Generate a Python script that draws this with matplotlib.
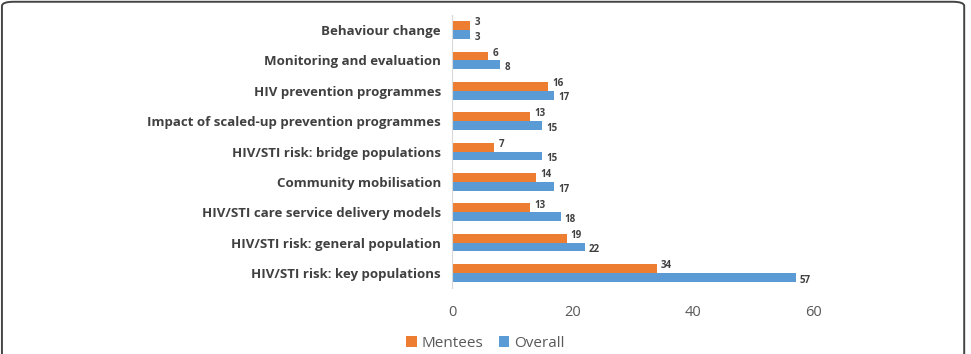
import matplotlib.pyplot as plt
import numpy as np
from matplotlib.patches import FancyBboxPatch

categories = ["Behaviour change", "Monitoring and evaluation", "HIV prevention programmes",
              "Impact of scaled-up prevention programmes", "HIV/STI risk: bridge populations",
              "Community mobilisation", "HIV/STI care service delivery models",
              "HIV/STI risk: general population", "HIV/STI risk: key populations"]
mentees = [3, 6, 16, 13, 7, 14, 13, 19, 34]
overall = [3, 8, 17, 15, 15, 17, 18, 22, 57]

orange = "#ED7D31"
blue = "#5B9BD5"
text_col = "#404040"

plt.rcParams['font.family'] = ['Open Sans', 'DejaVu Sans']

fig = plt.figure(figsize=(9.71, 3.54), dpi=100)
ax = fig.add_axes([0.4655, 0.186, 0.3725, 0.772])

y = np.arange(len(categories))
h = 0.29
ax.barh(y - h / 2, mentees, height=h, color=orange, label="Mentees")
ax.barh(y + h / 2, overall, height=h, color=blue, label="Overall")

for yi, m, o in zip(y, mentees, overall):
    ax.annotate(str(m), (m, yi - h / 2), xytext=(3, 2), textcoords="offset points",
                va="center", ha="left", fontsize=7, fontweight="bold", color=text_col)
    ax.annotate(str(o), (o, yi + h / 2), xytext=(3, -2), textcoords="offset points",
                va="center", ha="left", fontsize=7, fontweight="bold", color=text_col)

ax.set_ylim(len(categories) - 0.5, -0.5)
ax.set_xlim(0, 60)
ax.set_yticks(y)
ax.set_yticklabels(categories, fontsize=9.5, fontweight="bold", color=text_col)
ax.set_xticks([0, 20, 40, 60])
ax.tick_params(axis="x", labelsize=10.5, colors="#595959", length=0, pad=12)
ax.tick_params(axis="y", length=0, pad=8)
for s in ["top", "right", "bottom"]:
    ax.spines[s].set_visible(False)
ax.spines["left"].set_color("#D9D9D9")

fig.legend(loc="lower center", bbox_to_anchor=(0.5, -0.03), ncol=2, frameon=False,
           fontsize=11, handlelength=0.7, handleheight=0.7, handletextpad=0.3,
           columnspacing=1.0, labelcolor="#595959")

# rounded frame, open at the bottom (runs off the figure)
border = FancyBboxPatch((0.002, -0.2), 0.991, 1.195, boxstyle="round,pad=0,rounding_size=0.012",
                        transform=fig.transFigure, fill=False, edgecolor="#444444", linewidth=1.4)
fig.patches.append(border)

fig.savefig("out.png", dpi=100)
